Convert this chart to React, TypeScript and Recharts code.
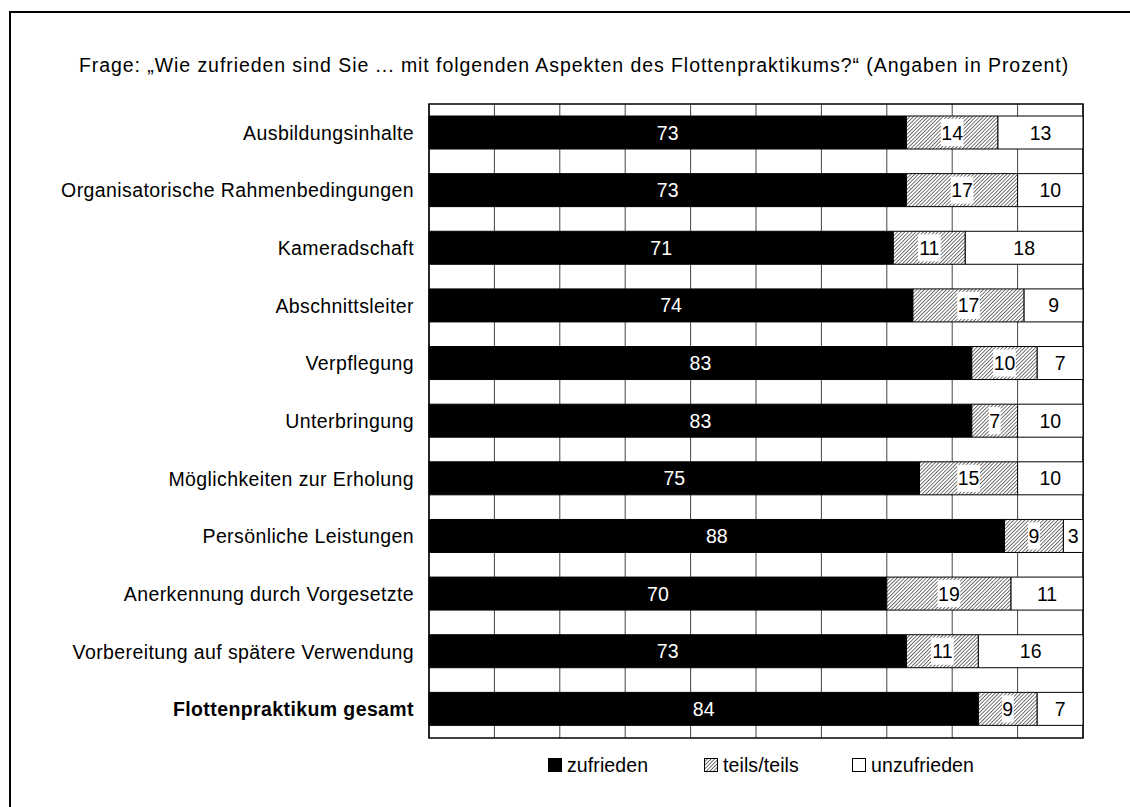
import { BarChart, Bar, XAxis, YAxis, CartesianGrid, ReferenceArea, LabelList } from "recharts";

const categories = [
  "Ausbildungsinhalte",
  "Organisatorische Rahmenbedingungen",
  "Kameradschaft",
  "Abschnittsleiter",
  "Verpflegung",
  "Unterbringung",
  "Möglichkeiten zur Erholung",
  "Persönliche Leistungen",
  "Anerkennung durch Vorgesetzte",
  "Vorbereitung auf spätere Verwendung",
  "Flottenpraktikum gesamt",
];
const zufrieden = [73, 73, 71, 74, 83, 83, 75, 88, 70, 73, 84];
const teils = [14, 17, 11, 17, 10, 7, 15, 9, 19, 11, 9];
const unzufrieden = [13, 10, 18, 9, 7, 10, 10, 3, 11, 16, 7];
const xTicks = [0, 10, 20, 30, 40, 50, 60, 70, 80, 90, 100];

const data = categories.map((name, i) => ({
  name,
  zufrieden: zufrieden[i],
  teils: teils[i],
  unzufrieden: unzufrieden[i],
}));

const FONT = '"Liberation Sans", Arial, sans-serif';

function makeLabel(kind: "zufrieden" | "teils" | "unzufrieden") {
  return (props: any) => {
    const { x, y, width, height, value } = props;
    const cx = Number(x) + Number(width) / 2;
    const cy = Number(y) + Number(height) / 2;
    const w = String(value).length * 10.8 + 1;
    return (
      <g>
        {kind === "teils" && <rect x={cx - w / 2} y={cy - 13.5} width={w} height={27} fill="#fff" />}
        <text
          x={cx}
          y={cy}
          dy="0.36em"
          textAnchor="middle"
          fontSize={19.5}
          fontFamily={FONT}
          fill={kind === "zufrieden" ? "#fff" : "#000"}
        >
          {value}
        </text>
      </g>
    );
  };
}

function CategoryTick({ x, y, payload }: any) {
  const bold = payload.value === "Flottenpraktikum gesamt";
  return (
    <text
      x={x}
      y={y}
      dy="0.36em"
      textAnchor="end"
      fontSize={19.5}
      letterSpacing={0.4}
      fontFamily={FONT}
      fontWeight={bold ? 700 : 400}
      fill="#000"
    >
      {payload.value}
    </text>
  );
}

// fine diagonal hatch used for "teils/teils"
function Hatch({ id }: { id: string }) {
  return (
    <pattern id={id} width="2.6" height="2.6" patternUnits="userSpaceOnUse" patternTransform="rotate(45)">
      <rect width="2.6" height="2.6" fill="#fff" />
      <line x1="0" y1="0" x2="0" y2="2.6" stroke="#2a2a2a" strokeWidth="1.3" />
    </pattern>
  );
}

function LegendItem({ kind, label, left }: { kind: string; label: string; left: number }) {
  return (
    <div style={{ position: "absolute", left, top: 752, display: "flex", alignItems: "center" }}>
      <svg width={14} height={14} style={{ marginRight: 5 }}>
        <defs>
          <Hatch id={"lg-" + kind} />
        </defs>
        <rect
          x={0.5}
          y={0.5}
          width={13}
          height={13}
          fill={kind === "zufrieden" ? "#000" : kind === "teils" ? "url(#lg-teils)" : "#fff"}
          stroke="#000"
          strokeWidth={1}
        />
      </svg>
      <span style={{ fontSize: 19.5, letterSpacing: 0.1, fontFamily: FONT, color: "#000", lineHeight: "26px" }}>
        {label}
      </span>
    </div>
  );
}

export default function App() {
  return (
    <div
      style={{
        position: "absolute",
        left: 0,
        top: 0,
        width: 1130,
        height: 807,
        overflow: "hidden",
        background: "#fff",
      }}
    >
      <div
        style={{
          position: "absolute",
          left: 9,
          top: 11,
          width: 1200,
          height: 900,
          borderTop: "2px solid #000",
          borderLeft: "2px solid #000",
        }}
      />
      <div
        style={{
          position: "absolute",
          left: 79,
          top: 56,
          fontSize: 19.5,
          letterSpacing: 0.93,
          lineHeight: "19px",
          fontFamily: FONT,
          color: "#000",
          whiteSpace: "nowrap",
        }}
      >
        Frage: „Wie zufrieden sind Sie ... mit folgenden Aspekten des Flottenpraktikums?“ (Angaben in Prozent)
      </div>
      <div style={{ position: "absolute", left: 0, top: 0 }}>
        <BarChart
          width={1130}
          height={807}
          data={data}
          layout="vertical"
          margin={{ top: 104, right: 47, bottom: 69, left: 0 }}
        >
          <defs>
            <Hatch id="hatch" />
          </defs>
          <CartesianGrid horizontal={false} stroke="#444" strokeWidth={1} />
          <XAxis type="number" domain={[0, 100]} ticks={xTicks} hide />
          <YAxis
            type="category"
            dataKey="name"
            width={429}
            axisLine={false}
            tickLine={false}
            tickMargin={9}
            tick={<CategoryTick />}
            interval={0}
          />
          <Bar dataKey="zufrieden" stackId="a" fill="#000" stroke="#000" strokeWidth={1} barSize={33} isAnimationActive={false}>
            <LabelList dataKey="zufrieden" content={makeLabel("zufrieden")} />
          </Bar>
          <Bar dataKey="teils" stackId="a" fill="url(#hatch)" stroke="#000" strokeWidth={1} barSize={33} isAnimationActive={false}>
            <LabelList dataKey="teils" content={makeLabel("teils")} />
          </Bar>
          <Bar dataKey="unzufrieden" stackId="a" fill="#fff" stroke="#000" strokeWidth={1} barSize={33} isAnimationActive={false}>
            <LabelList dataKey="unzufrieden" content={makeLabel("unzufrieden")} />
          </Bar>
          <ReferenceArea x1={0} x2={100} fill="none" stroke="#000" strokeWidth={1.5} ifOverflow="visible" />
        </BarChart>
      </div>
      <LegendItem kind="zufrieden" label="zufrieden" left={548} />
      <LegendItem kind="teils" label="teils/teils" left={704} />
      <LegendItem kind="unzufrieden" label="unzufrieden" left={852} />
    </div>
  );
}
